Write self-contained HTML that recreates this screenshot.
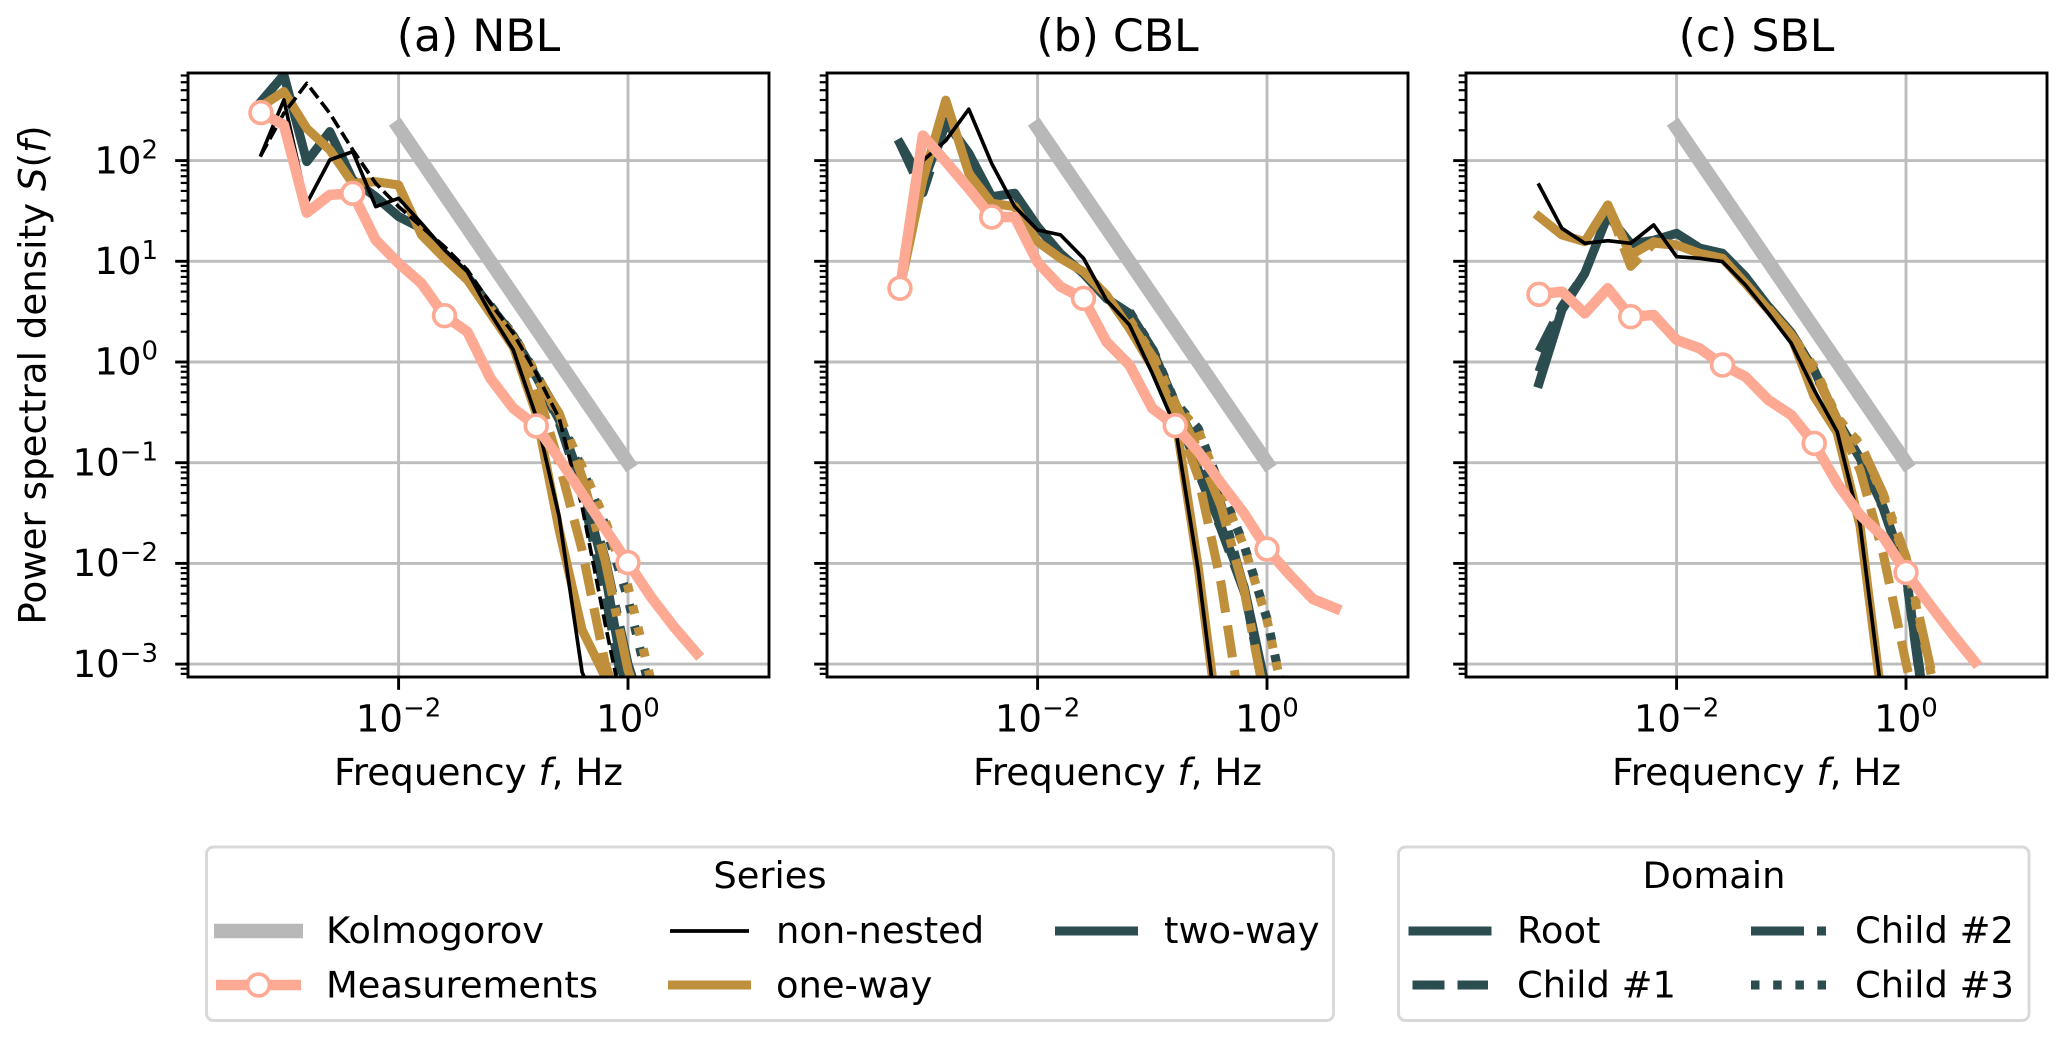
<!DOCTYPE html>
<html lang="en">
<head>
<meta charset="utf-8">
<title>Power spectral density panels</title>
<style>
html,body{margin:0;padding:0;background:#fff;}
svg{display:block;}
text{font-family:"DejaVu Sans","Liberation Sans",sans-serif;fill:#000;}
</style>
</head>
<body>
<svg id="chart" xmlns="http://www.w3.org/2000/svg" width="2067" height="1041" viewBox="0 0 2067 1041">
  <rect x="0" y="0" width="2067" height="1041" fill="#fff"/>
  <g id="panels"></g>

  <text x="478.5" y="51" font-size="44.2" text-anchor="middle">(a) NBL</text>
  <text x="1117.5" y="51" font-size="44.2" text-anchor="middle">(b) CBL</text>
  <text x="1756.5" y="51" font-size="44.2" text-anchor="middle">(c) SBL</text>

  <text transform="translate(45.5 375) rotate(-90)" font-size="37.2" text-anchor="middle">Power spectral density <tspan font-style="italic">S</tspan>(<tspan font-style="italic">f</tspan>)</text>
  <text x="478.5" y="785" font-size="37.3" text-anchor="middle">Frequency <tspan font-style="italic">f</tspan>, Hz</text>
  <text x="1117.5" y="785" font-size="37.3" text-anchor="middle">Frequency <tspan font-style="italic">f</tspan>, Hz</text>
  <text x="1756.5" y="785" font-size="37.3" text-anchor="middle">Frequency <tspan font-style="italic">f</tspan>, Hz</text>

  <g>
    <rect x="206.5" y="847" width="1127" height="173.5" rx="7" fill="#fff" stroke="#d8d8d8" stroke-width="2.9"/>
    <text x="770" y="888" font-size="36.85" text-anchor="middle">Series</text>
    <line x1="214" y1="931" x2="303" y2="931" stroke="#b8b8b8" stroke-width="14.6"/>
    <text x="326" y="943" font-size="36.85">Kolmogorov</text>
    <line x1="216" y1="985" x2="301" y2="985" stroke="#fda994" stroke-width="10.5"/>
    <circle cx="258.5" cy="985" r="10.9" fill="#fff" stroke="#fda994" stroke-width="3.65"/>
    <text x="326" y="997.5" font-size="36.85">Measurements</text>
    <line x1="670" y1="931" x2="749" y2="931" stroke="#000" stroke-width="3.65"/>
    <text x="776" y="943" font-size="36.85">non-nested</text>
    <line x1="668" y1="985" x2="751" y2="985" stroke="#bf8f3b" stroke-width="9.1"/>
    <text x="776" y="997.5" font-size="36.85">one-way</text>
    <line x1="1055" y1="931" x2="1138" y2="931" stroke="#2c4d50" stroke-width="9.1"/>
    <text x="1164" y="943" font-size="36.85">two-way</text>
  </g>

  <g>
    <rect x="1398.5" y="847" width="630.5" height="173.5" rx="7" fill="#fff" stroke="#d8d8d8" stroke-width="2.9"/>
    <text x="1714" y="888" font-size="36.85" text-anchor="middle">Domain</text>
    <line x1="1408.5" y1="931" x2="1491.5" y2="931" stroke="#2c4d50" stroke-width="9.1"/>
    <text x="1517" y="943" font-size="36.85">Root</text>
    <line x1="1412.5" y1="985" x2="1488" y2="985" stroke="#2c4d50" stroke-width="9.1" stroke-dasharray="32 13"/>
    <text x="1517" y="997.5" font-size="36.85">Child #1</text>
    <line x1="1751" y1="931" x2="1826" y2="931" stroke="#2c4d50" stroke-width="9.1" stroke-dasharray="53 13 9 13"/>
    <text x="1855" y="943" font-size="36.85">Child #2</text>
    <line x1="1751" y1="985" x2="1826" y2="985" stroke="#2c4d50" stroke-width="9.1" stroke-dasharray="8.5 13.7"/>
    <text x="1855" y="997.5" font-size="36.85">Child #3</text>
  </g>
</svg>

<script>
// Axis data: exponents of the log-spaced axes
const xTickExponents = [-2, 0];
const yTickExponents = [2, 1, 0, -1, -2, -3];
const yMinorDecades = [2, 1, 0, -1, -2, -3, -4];
const yMinorMultipliers = [2, 3, 4, 5, 6, 7, 8, 9];

// log10 of frequency (Hz) at each spectrum sample
const logFrequency = [-3.2, -3.0, -2.8, -2.6, -2.4, -2.2, -2.0, -1.8, -1.6, -1.4, -1.2, -1.0, -0.8, -0.6, -0.4, -0.2, 0.0, 0.2, 0.4, 0.6];

// Reference slope line
const kolmogorovLogF = [-2, 0];
const kolmogorovLogS = [2.33, -1];

// All series below are log10 S(f)
// (a) NBL
const nblMeasurements = [2.477, 2.354, 1.483, 1.659, 1.675, 1.212, 0.98, 0.781, 0.46, 0.30, -0.162, -0.46, -0.635, -0.96, -1.307, -1.655, -1.992, -2.332, -2.63, -2.894];
const nblNonNestedRoot = [2.056, 2.603, 1.576, 2.007, 2.089, 1.543, 1.626, 1.377, 1.113, 0.897, 0.483, 0.119, -0.543, -1.536, -3.08, -3.6];
const nblNonNestedChild1 = [2.056, 2.47, 2.768, 2.47, 2.106, 1.775, 1.543, 1.344, 1.146, 0.914, 0.583, 0.285, -0.113, -0.56, -1.437, -2.596, -3.69];
const nblOneWayRoot = [2.536, 2.685, 2.32, 2.106, 1.775, 1.79, 1.758, 1.262, 1.03, 0.815, 0.483, 0.152, -0.51, -1.67, -2.66, -3.126, -3.6];
const nblOneWayChild1 = [null, null, null, null, null, null, null, null, null, null, 0.5, 0.2, -0.25, -1.007, -1.868, -2.99, -3.7];
const nblOneWayChild2 = [null, null, null, null, null, null, null, null, null, null, 0.52, 0.24, -0.15, -0.51, -1.14, -1.97, -3.06, -3.7];
const nblOneWayChild3 = [null, null, null, null, null, null, null, null, null, null, 0.53, 0.26, -0.12, -0.543, -1.04, -1.57, -2.23, -3.16, -3.8];
const nblTwoWayRoot = [2.586, 2.851, 1.99, 2.288, 1.808, 1.642, 1.444, 1.328, 1.079, 0.848, 0.55, 0.252, -0.146, -0.576, -1.205, -2.1, -3.36];
const nblTwoWayChild1 = [null, null, null, null, null, null, null, null, null, null, 0.55, 0.252, -0.13, -0.6, -1.3, -2.3, -3.5];
const nblTwoWayChild2 = [null, null, null, null, null, null, null, null, null, null, 0.55, 0.26, -0.13, -0.52, -1.15, -1.95, -3.0, -3.7];
const nblTwoWayChild3 = [null, null, null, null, null, null, null, null, null, null, 0.56, 0.27, -0.12, -0.55, -1.06, -1.62, -2.35, -3.3, -3.8];

// (b) CBL
const cblMeasurements = [0.732, 2.248, 1.99, 1.722, 1.44, 1.44, 0.99, 0.748, 0.632, 0.202, -0.03, -0.46, -0.632, -0.89, -1.205, -1.503, -1.858, -2.116, -2.354, -2.447];
const cblNonNestedRoot = [0.732, 2.0, 2.2, 2.51, 1.97, 1.543, 1.311, 1.262, 1.03, 0.616, 0.368, -0.113, -0.642, -2.066, -3.89];
const cblOneWayRoot = [0.732, 1.808, 2.6, 1.874, 1.576, 1.543, 1.195, 1.03, 0.897, 0.666, 0.334, -0.046, -0.543, -2.04, -3.8];
const cblOneWayChild1 = [null, null, null, null, null, null, null, null, null, null, 0.35, -0.02, -0.5, -1.14, -2.2, -3.69];
const cblOneWayChild2 = [null, null, null, null, null, null, null, null, null, null, 0.4, 0.06, -0.41, -0.874, -1.437, -2.265, -3.46];
const cblOneWayChild3 = [null, null, null, null, null, null, null, null, null, null, 0.42, 0.08, -0.42, -0.675, -1.272, -1.834, -2.563, -3.62];
const cblTwoWayRoot = [2.172, 1.775, 2.387, 2.073, 1.642, 1.675, 1.344, 1.076, 0.877, 0.632, 0.483, 0.119, -0.41, -1.073, -1.636, -2.232, -3.29];
const cblTwoWayChild1 = [2.172, 1.68, 2.38, null, null, null, null, null, null, null, 0.483, 0.119, -0.42, -1.09, -1.66, -2.28, -3.3];
const cblTwoWayChild2 = [null, null, null, null, null, null, null, null, null, null, 0.49, 0.13, -0.41, -0.85, -1.42, -2.25, -3.42];
const cblTwoWayChild3 = [null, null, null, null, null, null, null, null, null, null, 0.5, 0.14, -0.4, -0.66, -1.26, -1.82, -2.55, -3.6];

// (c) SBL
const sblMeasurements = [0.672, 0.699, 0.483, 0.732, 0.45, 0.467, 0.219, 0.136, -0.03, -0.146, -0.377, -0.526, -0.808, -1.205, -1.52, -1.735, -2.09, -2.397, -2.695, -2.977];
const sblNonNestedRoot = [1.758, 1.328, 1.179, 1.205, 1.179, 1.361, 1.046, 1.03, 0.997, 0.765, 0.483, 0.185, -0.278, -0.692, -1.619, -3.424];
const sblOneWayRoot = [1.444, 1.262, 1.195, 1.56, 1.063, 1.195, 1.162, 1.079, 1.03, 0.781, 0.517, 0.252, -0.344, -0.7, -1.63, -3.45];
const sblOneWayChild1 = [null, null, null, 1.56, 0.95, 1.18, 1.16, null, null, null, 0.53, 0.25, -0.1, -0.576, -1.073, -1.9, -2.99, -4];
const sblOneWayChild2 = [null, null, null, null, null, null, null, null, null, null, 0.53, 0.27, -0.06, -0.576, -0.808, -1.305, -1.934, -2.96, -4];
const sblOneWayChild3 = [null, null, null, null, null, null, null, null, null, null, 0.53, 0.27, -0.05, -0.55, -0.82, -1.33, -1.97, -3.0, -4];
const sblTwoWayRoot = [-0.212, 0.516, 0.881, 1.457, 1.175, 1.208, 1.278, 1.132, 1.079, 0.848, 0.55, 0.285, -0.08, -0.576, -0.957, -1.437, -2.1, -3.79];
const sblTwoWayChild1 = [0.103, 0.55, 0.88, null, null, null, null, null, null, null, 0.55, 0.285, -0.09, -0.58, -0.97, -1.45, -2.12, -3.8];
const sblTwoWayChild2 = [-0.096, 0.53, 0.88, null, null, null, null, null, null, null, 0.55, 0.29, -0.08, -0.57, -0.95, -1.42, -2.08, -3.7];
const sblTwoWayChild3 = [null, null, null, null, null, null, null, null, null, null, 0.55, 0.29, -0.08, -0.57, -0.95, -1.43, -2.09, -3.72];

// Styling and layout
const TEAL = '#2c4d50';
const GOLD = '#bf8f3b';
const SALMON = '#fda994';
const KOLM = '#b8b8b8';
const GRID = '#bdbdbd';
const THICK = 9.1;
const THIN = 3.65;
const DASHED = [3.55, 1.43];
const DASHDOT = [5.8, 1.43, 0.93, 1.43];
const DOTTED = [0.93, 1.5];
const AX_TOP = 73;
const AX_BOTTOM = 677;
const X_DECADE = 114.7;
const Y_DECADE = 100.7;
const Y_UNIT_PIXEL = 362;
const SVG_NS = 'http://www.w3.org/2000/svg';

const panelUnitPixels = [628, 1267, 1906];
const panelKeys = ['a', 'b', 'c'];

const panelLines = [
  [
    ['two-way-root-line', nblTwoWayRoot, TEAL, THICK, null],
    ['two-way-child-1-line', nblTwoWayChild1, TEAL, THICK, DASHED],
    ['two-way-child-2-line', nblTwoWayChild2, TEAL, THICK, DASHDOT],
    ['two-way-child-3-line', nblTwoWayChild3, TEAL, THICK, DOTTED],
    ['one-way-root-line', nblOneWayRoot, GOLD, THICK, null],
    ['one-way-child-1-line', nblOneWayChild1, GOLD, THICK, DASHED],
    ['one-way-child-2-line', nblOneWayChild2, GOLD, THICK, DASHDOT],
    ['one-way-child-3-line', nblOneWayChild3, GOLD, THICK, DOTTED],
    ['non-nested-root-line', nblNonNestedRoot, '#000', THIN, null],
    ['non-nested-child-1-line', nblNonNestedChild1, '#000', THIN, DASHED]
  ],
  [
    ['two-way-root-line', cblTwoWayRoot, TEAL, THICK, null],
    ['two-way-child-1-line', cblTwoWayChild1, TEAL, THICK, DASHED],
    ['two-way-child-2-line', cblTwoWayChild2, TEAL, THICK, DASHDOT],
    ['two-way-child-3-line', cblTwoWayChild3, TEAL, THICK, DOTTED],
    ['one-way-root-line', cblOneWayRoot, GOLD, THICK, null],
    ['one-way-child-1-line', cblOneWayChild1, GOLD, THICK, DASHED],
    ['one-way-child-2-line', cblOneWayChild2, GOLD, THICK, DASHDOT],
    ['one-way-child-3-line', cblOneWayChild3, GOLD, THICK, DOTTED],
    ['non-nested-root-line', cblNonNestedRoot, '#000', THIN, null]
  ],
  [
    ['two-way-root-line', sblTwoWayRoot, TEAL, THICK, null],
    ['two-way-child-1-line', sblTwoWayChild1, TEAL, THICK, DASHED],
    ['two-way-child-2-line', sblTwoWayChild2, TEAL, THICK, DASHDOT],
    ['two-way-child-3-line', sblTwoWayChild3, TEAL, THICK, DOTTED],
    ['one-way-root-line', sblOneWayRoot, GOLD, THICK, null],
    ['one-way-child-1-line', sblOneWayChild1, GOLD, THICK, DASHED],
    ['one-way-child-2-line', sblOneWayChild2, GOLD, THICK, DASHDOT],
    ['one-way-child-3-line', sblOneWayChild3, GOLD, THICK, DOTTED],
    ['non-nested-root-line', sblNonNestedRoot, '#000', THIN, null]
  ]
];
const panelMeasurements = [nblMeasurements, cblMeasurements, sblMeasurements];

function yAxis(logS) {
  return Y_UNIT_PIXEL - Y_DECADE * logS;
}
function xAxisFor(unitPixel) {
  return function (logF) {
    return unitPixel + X_DECADE * logF;
  };
}
function el(tag, attrs, parent) {
  const node = document.createElementNS(SVG_NS, tag);
  for (const key in attrs) {
    node.setAttribute(key, attrs[key]);
  }
  parent.appendChild(node);
  return node;
}
function lineSpec(xs, ys, xAxis) {
  let d = '';
  let pen = false;
  for (let i = 0; i < ys.length; i++) {
    if (ys[i] === null) {
      pen = false;
      continue;
    }
    d += (pen ? 'L' : 'M') + xAxis(xs[i]).toFixed(1) + ' ' + yAxis(ys[i]).toFixed(1);
    pen = true;
  }
  return d;
}
function exponentLabel(exponent) {
  return String(exponent).replace('-', '\u2212');
}

const root = document.getElementById('panels');
const svgRoot = document.getElementById('chart');
const defs = el('defs', {}, svgRoot);

panelUnitPixels.forEach(function (unitPixel, p) {
  const left = unitPixel - 440;
  const right = unitPixel + 141;
  const xAxis = xAxisFor(unitPixel);
  const clipId = 'clip-' + panelKeys[p];

  const clip = el('clipPath', { id: clipId }, defs);
  el('rect', { x: left, y: AX_TOP, width: right - left, height: AX_BOTTOM - AX_TOP }, clip);

  const panel = el('g', {}, root);
  
  

  // Grid
  xTickExponents.forEach(function (exponent) {
    const grid = el('line', { x1: xAxis(exponent), x2: xAxis(exponent), y1: AX_TOP, y2: AX_BOTTOM, stroke: GRID, 'stroke-width': 2.9 }, panel);
    
    
  });
  yTickExponents.forEach(function (exponent) {
    const grid = el('line', { x1: left, x2: right, y1: yAxis(exponent), y2: yAxis(exponent), stroke: GRID, 'stroke-width': 2.9 }, panel);
    
    
  });

  const plot = el('g', { 'clip-path': 'url(#' + clipId + ')' }, panel);
  
  

  // Kolmogorov reference
  const kolm = el('path', { d: lineSpec(kolmogorovLogF, kolmogorovLogS, xAxis), fill: 'none', stroke: KOLM, 'stroke-width': 14, 'stroke-linecap': 'square', 'stroke-linejoin': 'round' }, plot);
  
  

  // Model series
  panelLines[p].forEach(function (row) {
    const attrs = {
      d: lineSpec(logFrequency, row[1], xAxis),
      fill: 'none',
      stroke: row[2],
      'stroke-width': row[3],
      'stroke-linejoin': 'round',
      'stroke-linecap': row[4] ? 'butt' : 'square'
    };
    if (row[4]) {
      attrs['stroke-dasharray'] = row[4].map(function (v) { return (v * row[3]).toFixed(2); }).join(' ');
    }
    const path = el('path', attrs, plot);
    
    
  });

  // Measurements
  const measured = panelMeasurements[p];
  const mLine = el('path', { d: lineSpec(logFrequency, measured, xAxis), fill: 'none', stroke: SALMON, 'stroke-width': 10.5, 'stroke-linecap': 'square', 'stroke-linejoin': 'round' }, plot);
  
  
  measured.forEach(function (value, i) {
    if (i % 4 !== 0) return;
    const dot = el('circle', { cx: xAxis(logFrequency[i]), cy: yAxis(value), r: 10.9, fill: '#fff', stroke: SALMON, 'stroke-width': 3.65 }, plot);
    
    
  });

  // Y minor ticks
  yMinorDecades.forEach(function (decade) {
    yMinorMultipliers.forEach(function (m) {
      const v = decade + Math.log10(m);
      if (yAxis(v) < AX_TOP || yAxis(v) > AX_BOTTOM) return;
      const tick = el('line', { x1: left - 7.3, x2: left, y1: yAxis(v), y2: yAxis(v), stroke: '#000', 'stroke-width': 2.2 }, panel);
      
      
    });
  });

  // Y major ticks and labels (labels only on first panel)
  yTickExponents.forEach(function (exponent) {
    const tick = el('line', { x1: left - 12.8, x2: left, y1: yAxis(exponent), y2: yAxis(exponent), stroke: '#000', 'stroke-width': 2.9 }, panel);
    
    
    if (p === 0) {
      const label = el('text', { x: left - 30, y: yAxis(exponent) + 12.7, 'font-size': 37, 'text-anchor': 'end' }, panel);
      
      
      label.appendChild(document.createTextNode('10'));
      const sup = el('tspan', { dy: -15, 'font-size': 26 }, label);
      sup.textContent = exponentLabel(exponent);
    }
  });

  // X major ticks and labels
  xTickExponents.forEach(function (exponent) {
    const tick = el('line', { x1: xAxis(exponent), x2: xAxis(exponent), y1: AX_BOTTOM, y2: AX_BOTTOM + 12.8, stroke: '#000', 'stroke-width': 2.9 }, panel);
    
    
    const label = el('text', { x: xAxis(exponent), y: 731.5, 'font-size': 37, 'text-anchor': 'middle' }, panel);
    
    
    label.appendChild(document.createTextNode('10'));
    const sup = el('tspan', { dy: -15, 'font-size': 26 }, label);
    sup.textContent = exponentLabel(exponent);
  });

  // Frame
  const frame = el('rect', { x: left, y: AX_TOP, width: right - left, height: AX_BOTTOM - AX_TOP, fill: 'none', stroke: '#000', 'stroke-width': 2.9 }, panel);
  
  
});
</script>
</body>
</html>
